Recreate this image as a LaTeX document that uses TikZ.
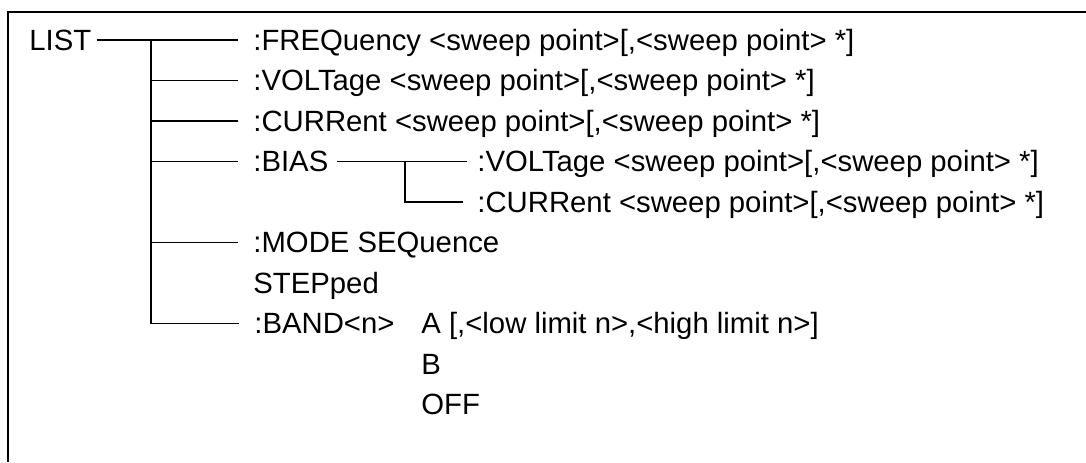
\documentclass[tikz,border=0pt]{standalone}
\usepackage{fontspec}
\setmainfont{Liberation Sans}
\tikzset{
  cmd/.style={anchor=base west, inner sep=0pt, text height=11pt, text depth=1pt,
    font=\fontsize{14.65pt}{18pt}\selectfont},
  tree/.style={line width=0.65pt},
  branch/.style={tree, shorten >=7.5pt},
}
\begin{document}
\begin{tikzpicture}[x=0.5pt, y=-0.5pt, line cap=butt]
  \useasboundingbox (0,0) rectangle (1086,462);
  % Frame
  \draw[line width=1pt] (8,462) -- (8,12) -- (1086,12);

  % Root
  \node[cmd] (list) at (29,50) {LIST};

  % Sub commands
  \node[cmd] (freq) at (253,50) {:FREQuency <sweep point>[,<sweep point> *]};
  \node[cmd] (volt) at (253,90.5) {:VOLTage <sweep point>[,<sweep point> *]};
  \node[cmd] (curr) at (253,131) {:CURRent <sweep point>[,<sweep point> *]};
  \node[cmd] (bias) at (253,171.5) {:BIAS};
  \node[cmd] (mode) at (253,252.5) {:MODE SEQuence};
  \node[cmd] (step) at (253,293) {STEPped};
  \node[cmd] (band) at (254,333.5) {:BAND<n>};

  % BIAS sub commands
  \node[cmd] (bvolt) at (477,171.5) {:VOLTage <sweep point>[,<sweep point> *]};
  \node[cmd] (bcurr) at (477,212) {:CURRent <sweep point>[,<sweep point> *]};

  % BAND parameters
  \node[cmd] (banda) at (421,333.5) {A [,<low limit n>,<high limit n>]};
  \node[cmd] (bandb) at (421,374) {B};
  \node[cmd] (bandoff) at (421,414.5) {OFF};

  % Coordinates
  \coordinate (trunk) at (151,40);
  \coordinate (fork) at (405,161.5);

  % Tree
  \draw[branch, shorten <=2.5pt] (list.east) -- (freq.west);
  \foreach \n in {volt,curr,bias,mode}
    \draw[branch] (trunk |- \n.west) -- (\n.west);
  \draw[branch] (trunk) |- (band.west);
  \draw[branch, shorten <=4pt, shorten >=5pt] (bias.east) -- (bvolt.west);
  \draw[branch, shorten >=7pt] (fork) |- (bcurr.west);
\end{tikzpicture}
\end{document}
